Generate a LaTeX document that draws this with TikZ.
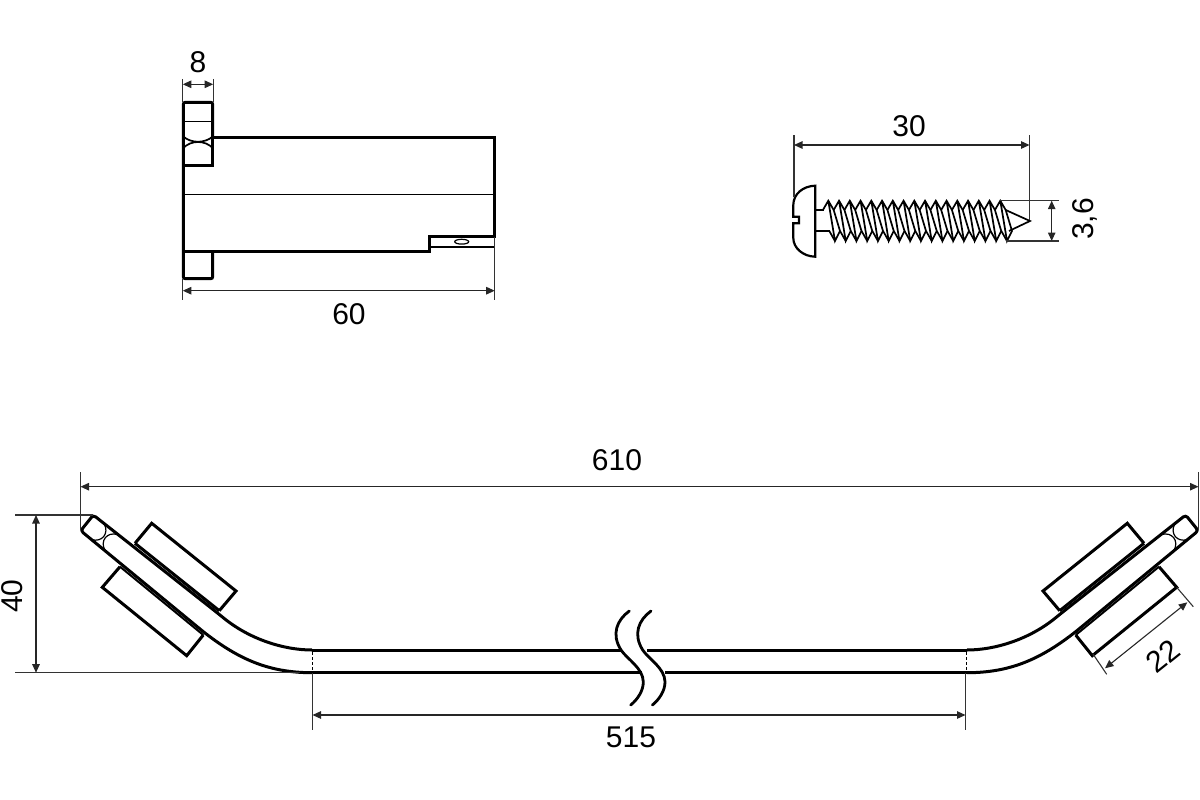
\documentclass[tikz,border=0pt]{standalone}
\usepackage{fontspec}
\setmainfont{Liberation Sans}
\usetikzlibrary{arrows.meta}
\tikzset{
  outline/.style={line width=3pt,line join=miter},
  thinline/.style={line width=1.2pt},
  screwline/.style={line width=1.7pt},
  extline/.style={line width=1.1pt,black!80},
  dimline/.style={line width=1.1pt,black!85,{Triangle[length=8.5pt,width=7.5pt]}-{Triangle[length=8.5pt,width=7.5pt]}},
  dimtext/.style={font=\fontsize{30}{33}\selectfont,inner sep=0pt},
  railend/.pic={
    \draw[outline,fill=white] (135,543.3) -- (151.7,523.3) -- (236,591) -- (219.3,610.7);
    \draw[outline,fill=white] (120,566.7) -- (102.3,587.3) -- (186.7,655.7) -- (203.3,635);
    \draw[outline] (135,543.3) -- (219.3,610.7);
    \draw[line width=2pt] (120,566.7) -- (203.3,635);
    \draw[outline,rounded corners=3pt] (312,650) .. controls (285,650) and (250,640) .. (220,615) -- (93.3,515) -- (80.7,530.7) -- (203.3,631.7) .. controls (240,660) and (270,672.7) .. (312,672.7);
    \begin{scope}[shift={(87,523)},rotate=-38.7]
      \draw[thinline] (14,-10) .. controls (24,-6) and (24,6) .. (14,10);
      \draw[thinline] (31,-10) .. controls (21,-6) and (21,6) .. (31,10);
    \end{scope}
    \draw[thinline,densely dashed] (312.5,652) -- (312.5,671);
  }
}
\begin{document}
\begin{tikzpicture}[x=1pt,y=-1pt]
\useasboundingbox (0,0) rectangle (1200,800);
% bracket
\draw[outline,rounded corners=2pt] (212.7,137.3) -- (212.7,102.3) -- (183.3,102.3) -- (183.3,278.7) -- (212.7,278.7) -- (212.7,251.7);
\draw[outline] (212.7,137.3) -- (212.7,165.7) -- (183.3,165.7);
\draw[outline] (212.7,137.3) -- (494.3,137.3) -- (494.3,236.7) -- (429.3,236.7) -- (429.3,251.7) -- (183.3,251.7);
\draw[thinline] (183.3,121.7) -- (212.7,121.7);
\draw[thinline] (183.3,194.7) -- (494.3,194.7);
\draw[thinline] (429.3,247) -- (494.3,247);
\draw[screwline] (183.3,136.5) .. controls (191,143.5) and (205,143.5) .. (212.7,136.5);
\draw[screwline] (183.3,148) .. controls (191,140) and (205,140) .. (212.7,148);
\draw[thinline] (461.7,241.7) ellipse (7 and 2.4);
\coordinate (d8a) at (182.8,84.3);
\coordinate (d8b) at (213.2,84.3);
\coordinate (d60a) at (182.8,290.7);
\coordinate (d60b) at (494.7,290.7);
\draw[extline] (182.8,79) -- (182.8,102);
\draw[extline] (213.2,79) -- (213.2,102);
\draw[extline] (182.8,279) -- (182.8,300);
\draw[extline] (494.7,237) -- (494.7,300);
\draw[dimline] (d8a) -- (d8b);
\draw[dimline] (d60a) -- (d60b);
\node[dimtext] (lab8) at (198,62) {8};
\node[dimtext] (lab60) at (349,314) {60};
% screw
\draw[line width=2.2pt] (815.3,185.7) .. controls (803,186) and (793.3,194) .. (793.3,205) -- (793.3,216.7) -- (799,216.7) -- (799,223.3) -- (793.3,223.3) -- (793.3,238) .. controls (793.3,248) and (803,256.5) .. (815.3,256.7) -- cycle;
\draw[screwline] (815.3,210) -- (824,210);
\draw[screwline] (815.3,231) -- (830,231);
\foreach \i in {0,...,16}{
  \pgfmathsetmacro\tx{828.3+10.75*\i}
  \draw[screwline,line join=miter] (\tx-5.4,210) -- (\tx,200.7) -- (\tx+5.4,210) -- (\tx+11.7,231) -- (\tx+6.7,241) -- (\tx,200.7);
  \draw[screwline] (\tx+6.7,241) -- (\tx+1,231);
}
\draw[screwline,line join=miter] (1005.7,210) -- (1030,221) -- (1009,231);
\coordinate (d30a) at (794,145);
\coordinate (d30b) at (1029.5,145);
\coordinate (d36a) at (1051.7,200.7);
\coordinate (d36b) at (1051.7,241);
\draw[extline] (794,135) -- (794,197);
\draw[extline] (1029.5,135) -- (1029.5,220);
\draw[extline] (1000,200.7) -- (1059,200.7);
\draw[extline] (1006,241) -- (1059,241);
\draw[dimline] (d30a) -- (d30b);
\draw[dimline] (d36a) -- (d36b);
\node[dimtext] (lab30) at (909,126) {30};
\node[dimtext,rotate=90] (lab36) at (1085,219) {3,6};
% rail
\pic at (0,0) {railend};
\pic[xscale=-1] at (1279,0) {railend};
\draw[outline] (312,650) -- (622,650);
\draw[outline] (647,650) -- (967,650);
\draw[outline] (312,672.7) -- (642,672.7);
\draw[outline] (665,672.7) -- (967,672.7);
\foreach \s in {0,21.7}{
  \begin{scope}[xshift=\s pt]
    \draw[line width=2.8pt,line cap=round] (629.3,611) .. controls (617,620) and (611,634) .. (621,650) .. controls (627,659) and (643,668) .. (643.3,681.7) .. controls (643.5,691) and (637,700) .. (630.7,705);
  \end{scope}
}
\coordinate (d610a) at (80.5,486.7);
\coordinate (d610b) at (1198.5,486.7);
\coordinate (d40a) at (36,515);
\coordinate (d40b) at (36,672.7);
\coordinate (d515a) at (312.5,715);
\coordinate (d515b) at (965.5,715);
\coordinate (d22a) at (1187.3,602.3);
\coordinate (d22b) at (1105,668.3);
\draw[extline] (80.5,472) -- (80.5,530);
\draw[extline] (1198.5,472) -- (1198.5,530);
\draw[extline] (15,515) -- (93,515);
\draw[extline] (15,672.7) -- (300,672.7);
\draw[extline] (312.5,673) -- (312.5,730);
\draw[extline] (965.5,673) -- (965.5,730);
\draw[extline] (1176.7,587.3) -- (1193.3,606.7);
\draw[extline] (1093,654) -- (1106.7,674.3);
\draw[dimline] (d610a) -- (d610b);
\draw[dimline] (d40a) -- (d40b);
\draw[dimline] (d515a) -- (d515b);
\draw[dimline] (d22a) -- (d22b);
\node[dimtext] (lab610) at (617,460) {610};
\node[dimtext,rotate=90] (lab40) at (12,596) {40};
\node[dimtext] (lab515) at (631,737) {515};
\node[dimtext,rotate=38.7] (lab22) at (1163,656) {22};
\end{tikzpicture}
\end{document}
